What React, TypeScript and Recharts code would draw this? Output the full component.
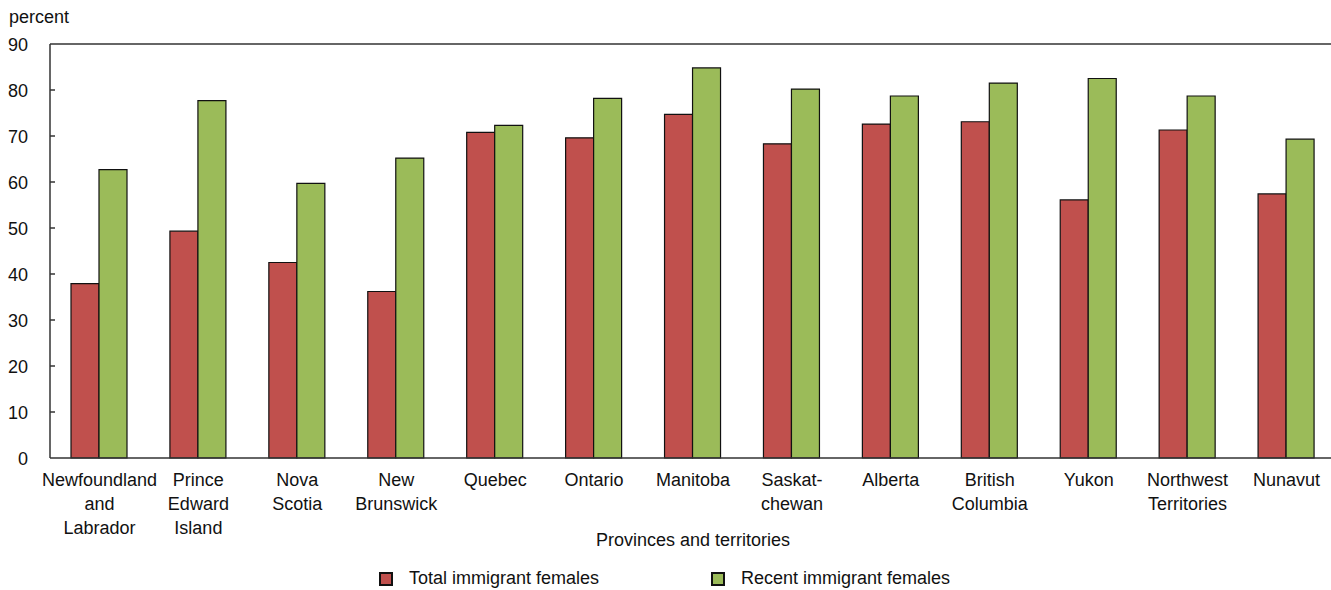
import React from 'react';
import { BarChart, Bar, XAxis, YAxis, ReferenceLine } from 'recharts';

const regions = [
  'Newfoundland\nand\nLabrador',
  'Prince\nEdward\nIsland',
  'Nova\nScotia',
  'New\nBrunswick',
  'Quebec',
  'Ontario',
  'Manitoba',
  'Saskat-\nchewan',
  'Alberta',
  'British\nColumbia',
  'Yukon',
  'Northwest\nTerritories',
  'Nunavut',
];

const totalImmigrant = [37.9, 49.3, 42.5, 36.2, 70.8, 69.6, 74.7, 68.3, 72.6, 73.1, 56.1, 71.3, 57.4];
const recentImmigrant = [62.7, 77.7, 59.7, 65.2, 72.3, 78.2, 84.8, 80.2, 78.7, 81.5, 82.5, 78.7, 69.3];

const yTicks = [0, 10, 20, 30, 40, 50, 60, 70, 80, 90];

const data = regions.map((region, i) => ({
  region,
  total: totalImmigrant[i],
  recent: recentImmigrant[i],
}));

const FONT = '"Liberation Sans", Arial, sans-serif';
const FS = 18;
const RED = '#C0504D';
const GREEN = '#9BBB59';

function CategoryTick(props: any) {
  const { x, y, payload } = props;
  const lines = String(payload.value).split('\n');
  return (
    <text x={x} y={y + 28} textAnchor="middle" fontSize={FS} fill="#111" fontFamily={FONT}>
      {lines.map((line, i) => (
        <tspan key={i} x={x} dy={i === 0 ? 0 : 24}>
          {line}
        </tspan>
      ))}
    </text>
  );
}

function ValueTick(props: any) {
  const { x, y, payload } = props;
  return (
    <g>
      <text x={x} y={y + 6.5} textAnchor="end" fontSize={FS} fill="#111" fontFamily={FONT}>
        {payload.value}
      </text>
      {payload.value !== 0 && payload.value !== 90 && (
        <line x1={x + 22} x2={x + 27} y1={y} y2={y} stroke="#333" strokeWidth={1.5} />
      )}
    </g>
  );
}

function LegendItem({ color, label }: { color: string; label: string }) {
  return (
    <div style={{ display: 'flex', alignItems: 'center' }}>
      <span
        style={{
          width: 10,
          height: 10,
          background: color,
          border: '2px solid #111',
          marginRight: 16,
          display: 'inline-block',
        }}
      />
      <span>{label}</span>
    </div>
  );
}

export default function App() {
  return (
    <div
      style={{
        position: 'fixed',
        left: 0,
        top: 0,
        width: 1331,
        height: 590,
        overflow: 'hidden',
        background: '#fff',
        fontFamily: FONT,
      }}
    >
      <div style={{ position: 'absolute', left: 9, top: 7, fontSize: FS, color: '#111' }}>percent</div>
      <BarChart
        width={1345}
        height={590}
        data={data}
        margin={{ top: 44, right: 9, bottom: 0, left: 8 }}
        barGap={0}
        barSize={28}
      >
        <XAxis
          dataKey="region"
          interval={0}
          height={132}
          tickLine={false}
          tickSize={0}
          tickMargin={0}
          stroke="#333"
          strokeWidth={1.5}
          tick={<CategoryTick />}
          label={(p: any) => {
            const vb = p.viewBox;
            return (
              <text
                x={vb.x + vb.width / 2}
                y={vb.y + 88}
                textAnchor="middle"
                fontSize={FS}
                fill="#111"
                fontFamily={FONT}
              >
                Provinces and territories
              </text>
            );
          }}
        />
        <YAxis
          width={42}
          domain={[0, 90]}
          ticks={yTicks}
          interval={0}
          tickLine={false}
          tickSize={0}
          tickMargin={22}
          stroke="#333"
          strokeWidth={1.5}
          tick={<ValueTick />}
        />
        <ReferenceLine y={90} stroke="#333" strokeWidth={1.5} ifOverflow="visible" />
        <Bar dataKey="total" name="Total immigrant females" fill={RED} stroke="#111" strokeWidth={1.2} isAnimationActive={false} />
        <Bar dataKey="recent" name="Recent immigrant females" fill={GREEN} stroke="#111" strokeWidth={1.2} isAnimationActive={false} />
      </BarChart>
      <div
        style={{
          position: 'absolute',
          top: 568,
          left: 379,
          display: 'flex',
          fontSize: FS,
          color: '#111',
        }}
      >
        <div style={{ width: 332 }}>
          <LegendItem color={RED} label="Total immigrant females" />
        </div>
        <LegendItem color={GREEN} label="Recent immigrant females" />
      </div>
    </div>
  );
}
